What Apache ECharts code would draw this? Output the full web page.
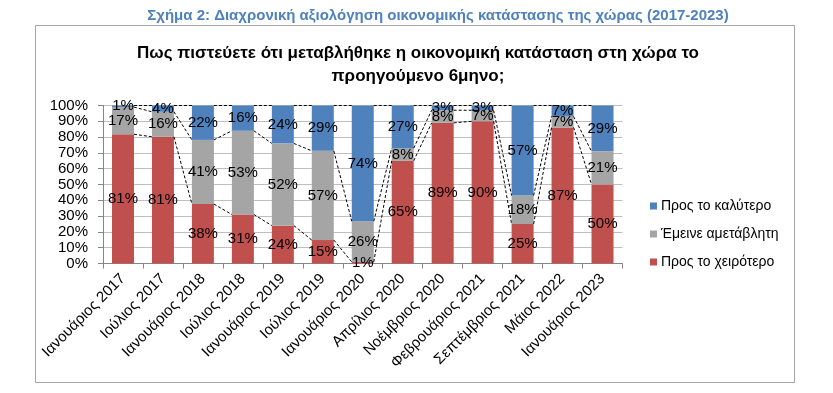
<!DOCTYPE html>
<html>
<head>
<meta charset="utf-8">
<script src="https://cdn.jsdelivr.net/npm/echarts@6/dist/echarts.min.js"></script>
<style>html,body{margin:0;padding:0;background:#fff;}#c{width:833px;height:393px;}</style>
</head>
<body>
<div id="c"></div>
<script>
var categories = ['Ιανουάριος 2017','Ιούλιος 2017','Ιανουάριος 2018','Ιούλιος 2018','Ιανουάριος 2019','Ιούλιος 2019','Ιανουάριος 2020','Απρίλιος 2020','Νοέμβριος 2020','Φεβρουάριος 2021','Σεπτέμβριος 2021','Μάιος 2022','Ιανουάριος 2023'];
var worse  = [81,81,38,31,24,15,1,65,89,90,25,87,50];
var same   = [17,16,41,53,52,57,26,8,8,7,18,7,21];
var better = [1,4,22,16,24,29,74,27,3,3,57,7,29];
var yTicks = [0,10,20,30,40,50,60,70,80,90,100];

var totals = categories.map(function(_, i){ return worse[i] + same[i] + better[i]; });
function norm(arr){ return arr.map(function(v, i){ return v / totals[i] * 100; }); }
var nW = norm(worse), nS = norm(same), nB = norm(better);
var connData = [];
for (var i = 0; i < categories.length - 1; i++) {
  connData.push([i, nW[i], nW[i] + nS[i], nW[i+1], nW[i+1] + nS[i+1]]);
}

var BW = 22;
var FONT = 'Liberation Sans, Arial, sans-serif';

function lbl(raw){
  return { show: true, position: 'inside', color: '#000', fontSize: 15, fontFamily: FONT,
    formatter: function(p){ return raw[p.dataIndex] + '%'; } };
}

var chart = echarts.init(document.getElementById('c'));
chart.setOption({
  animation: false,
  title: [
    { text: 'Σχήμα 2: Διαχρονική αξιολόγηση οικονομικής κατάστασης της χώρας (2017-2023)',
      left: 433, top: 3, textAlign: 'center',
      textStyle: { color: '#4F81BD', fontSize: 15, fontWeight: 'bold', fontFamily: FONT } },
    { text: 'Πως πιστεύετε ότι μεταβλήθηκε η οικονομική κατάσταση στη χώρα το\nπροηγούμενο 6μηνο;',
      left: 413, top: 37, textAlign: 'center',
      textStyle: { color: '#000', fontSize: 17, fontWeight: 'bold', fontFamily: FONT, lineHeight: 23 } }
  ],
  graphic: [
    { type: 'rect', shape: { x: 35.5, y: 25.5, width: 759, height: 357 },
      style: { fill: 'none', stroke: '#A6A6A6', lineWidth: 1 }, silent: true, z: -1 }
  ],
  legend: {
    orient: 'vertical', left: 645, top: 194, itemWidth: 7, itemHeight: 7, itemGap: 14,
    icon: 'rect',
    data: ['Προς το καλύτερο', 'Έμεινε αμετάβλητη', 'Προς το χειρότερο'],
    textStyle: { fontSize: 14, fontFamily: FONT, color: '#000', padding: [0,0,0,-1] }
  },
  grid: { left: 103, right: 210.5, top: 105.5, bottom: 129.5, containLabel: false },
  xAxis: {
    type: 'category', data: categories,
    axisLine: { lineStyle: { color: '#868686' } },
    axisTick: { show: true, length: 5, lineStyle: { color: '#868686' }, alignWithLabel: false },
    axisLabel: { rotate: 45, fontSize: 15, fontFamily: FONT, color: '#000', margin: 13, interval: 0 }
  },
  yAxis: {
    type: 'value', min: 0, max: 100, interval: 10,
    axisLine: { show: true, lineStyle: { color: '#868686' } },
    axisTick: { show: true, length: 5, lineStyle: { color: '#868686' } },
    splitLine: { lineStyle: { color: '#BFBFBF' } },
    axisLabel: { fontSize: 15, fontFamily: FONT, color: '#000', margin: 15,
      formatter: function(v){ return yTicks.indexOf(v) >= 0 ? v + '%' : ''; } }
  },
  series: [
    { name: 'Προς το χειρότερο', type: 'bar', stack: 's', barWidth: BW, data: nW,
      itemStyle: { color: '#C0504D' }, label: lbl(worse) },
    { name: 'Έμεινε αμετάβλητη', type: 'bar', stack: 's', barWidth: BW, data: nS,
      itemStyle: { color: '#A5A5A5' }, label: lbl(same) },
    { name: 'Προς το καλύτερο', type: 'bar', stack: 's', barWidth: BW, data: nB,
      itemStyle: { color: '#4F81BD' }, label: lbl(better) },
    { name: 'conn', type: 'custom', data: connData, z: 5, silent: true,
      encode: { x: 0, y: 1 },
      renderItem: function(params, api){
        var i = api.value(0);
        var ys = [[api.value(1), api.value(3)], [api.value(2), api.value(4)], [100, 100]];
        var children = ys.map(function(p){
          var a = api.coord([i, p[0]]);
          var b = api.coord([i + 1, p[1]]);
          return { type: 'line', shape: { x1: a[0] + BW/2, y1: a[1], x2: b[0] - BW/2, y2: b[1] },
            style: { stroke: '#000', lineWidth: 1, lineDash: [3, 2] } };
        });
        return { type: 'group', children: children };
      }
    }
  ]
});
</script>
</body>
</html>
